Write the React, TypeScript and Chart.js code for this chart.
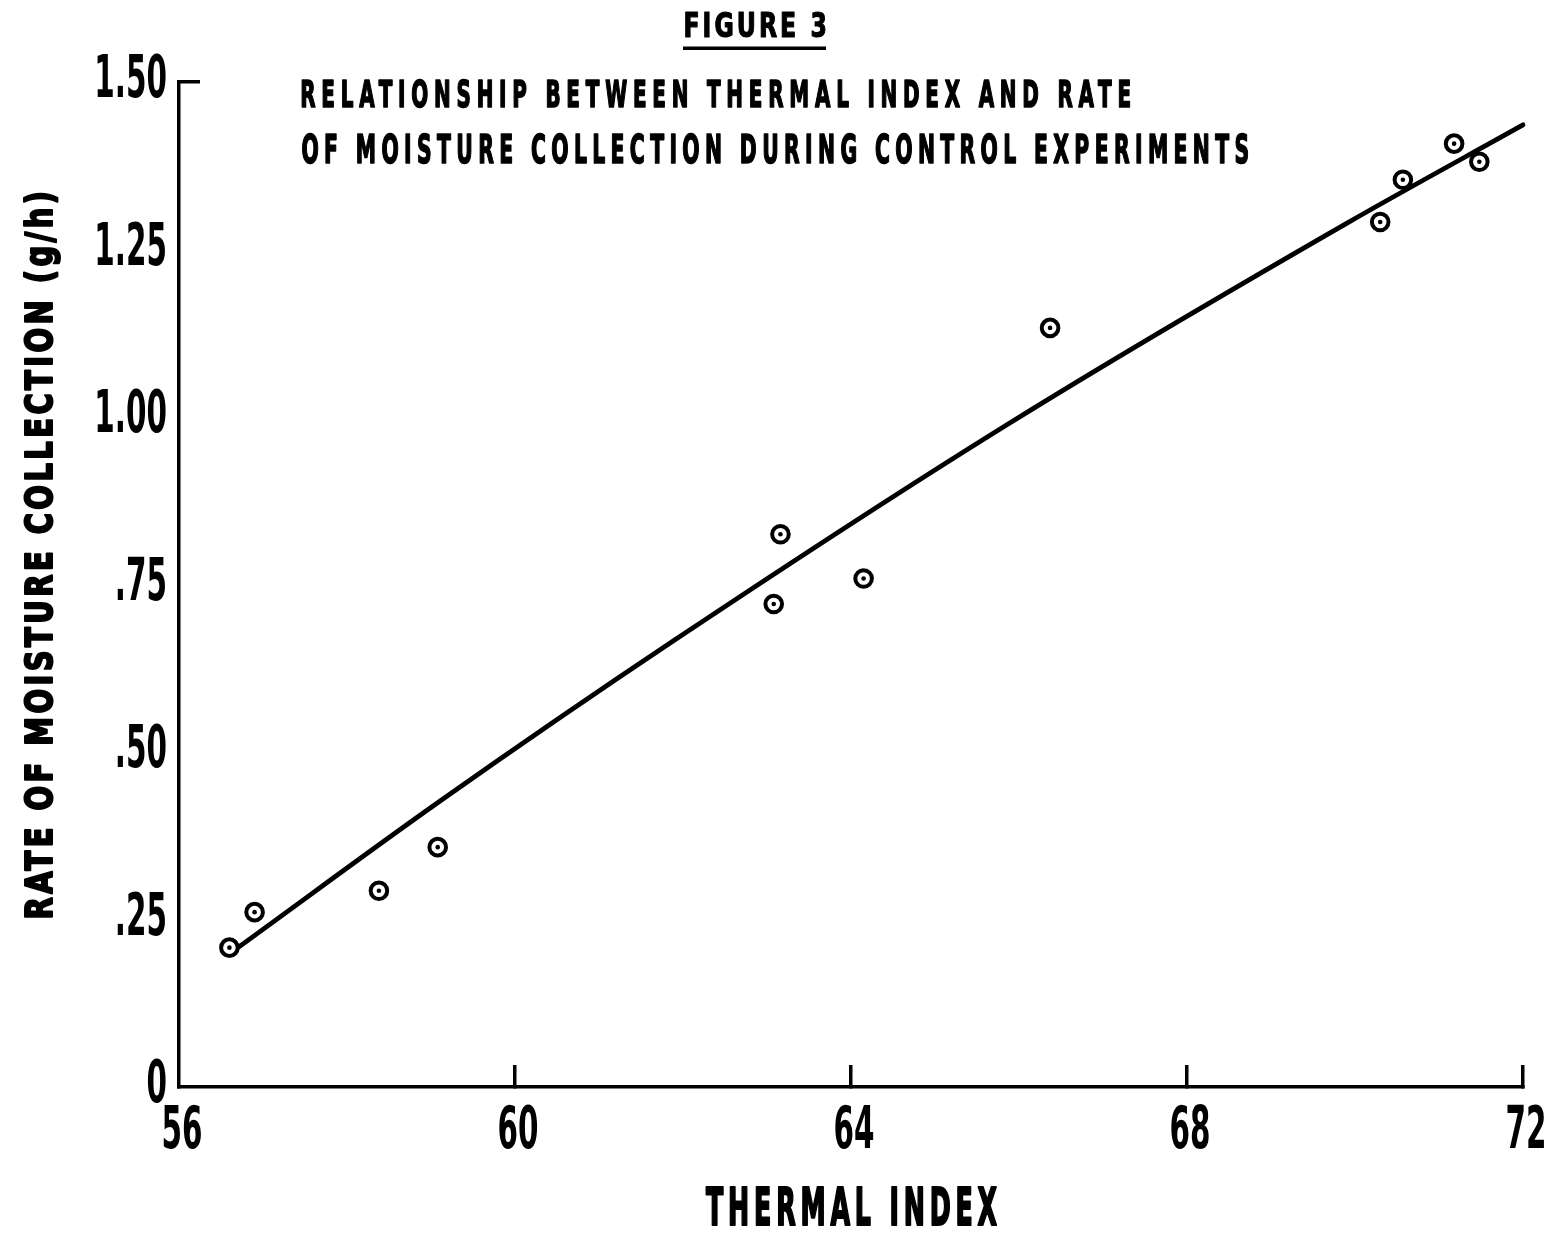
import React, { useEffect, useRef } from 'react';
import { Chart, registerables } from 'chart.js';

Chart.register(...registerables);

const FAMILY = '"Liberation Sans Narrow", "DejaVu Sans Condensed", "Liberation Sans", "DejaVu Sans", sans-serif';

// Observed data points (thermal index, rate of moisture collection g/h)
const thermalIndex = [56.6, 56.9, 58.38, 59.08, 63.08, 63.16, 64.15, 66.37, 70.3, 70.57, 71.18, 71.48];
const moistureRate = [0.208, 0.261, 0.293, 0.358, 0.721, 0.825, 0.759, 1.133, 1.291, 1.354, 1.408, 1.381];

// Hand-drawn fitted curve
const fitThermal = [56.69, 59.1, 61.9, 65.89, 69.9, 72.0];
const fitRate = [0.207, 0.426, 0.667, 0.991, 1.289, 1.436];

const xTicks = [56, 60, 64, 68, 72];
const xTickLabels = ['56', '60', '64', '68', '72'];
const yTicks = [0, 0.25, 0.5, 0.75, 1, 1.25, 1.5];
const yTickLabels = ['0', '.25', '.50', '.75', '1.00', '1.25', '1.50'];

const figureLabel = 'FIGURE 3';
const titleLines = [
  'RELATIONSHIP BETWEEN THERMAL INDEX AND RATE',
  'OF MOISTURE COLLECTION DURING CONTROL EXPERIMENTS',
];
const xTitle = 'THERMAL INDEX';
const yTitle = 'RATE OF MOISTURE COLLECTION (g/h)';

const TICK_SET = new Set([...xTickLabels, ...yTickLabels]);
const DIGIT_ADVANCE = 20.5;

function drawFitted(
  ctx: CanvasRenderingContext2D,
  text: string,
  length: number,
  cap: number,
  inkRatio: number,
  stroke: number
) {
  (ctx as any).letterSpacing = '0px';
  ctx.font = `bold 100px ${FAMILY}`;
  const mH = ctx.measureText('H');
  const size = (100 * cap) / mH.actualBoundingBoxAscent;
  ctx.font = `bold ${size}px ${FAMILY}`;
  const mE = ctx.measureText('E');
  const inkE = mE.actualBoundingBoxRight + mE.actualBoundingBoxLeft;
  let sx = (inkRatio * cap) / inkE;
  const m = ctx.measureText(text);
  const w0 = m.actualBoundingBoxRight + m.actualBoundingBoxLeft;
  const n = Array.from(text).length;
  let L = (length / sx - w0) / Math.max(1, n - 1);
  if (L < 0) {
    L = 0;
    sx = length / w0;
  }
  (ctx as any).letterSpacing = `${L}px`;
  ctx.scale(sx, 1);
  ctx.textAlign = 'left';
  ctx.textBaseline = 'alphabetic';
  ctx.fillStyle = '#000';
  ctx.strokeStyle = '#000';
  ctx.lineJoin = 'round';
  ctx.fillText(text, m.actualBoundingBoxLeft, 0);
  if (stroke > 0) {
    ctx.lineWidth = stroke;
    ctx.strokeText(text, m.actualBoundingBoxLeft, 0);
  }
  (ctx as any).letterSpacing = '0px';
}

const condensedTicks = {
  id: 'condensedTicks',
  beforeDraw(chart: any) {
    const ctx = chart.ctx;
    const orig = CanvasRenderingContext2D.prototype.fillText;
    ctx.fillText = function (text: string, x: number, y: number, maxWidth?: number) {
      if (maxWidth === undefined && TICK_SET.has(String(text))) {
        const d = this.measureText('0').width;
        const w = this.measureText(text).width;
        return orig.call(this, text, x, y, w * (DIGIT_ADVANCE / d));
      }
      return maxWidth === undefined ? orig.call(this, text, x, y) : orig.call(this, text, x, y, maxWidth);
    };
  },
  afterDraw(chart: any) {
    delete chart.ctx.fillText;
  },
};

const titles = {
  id: 'titles',
  afterDraw(chart: any) {
    const ctx: CanvasRenderingContext2D = chart.ctx;
    ctx.save();
    ctx.translate(685, 37);
    drawFitted(ctx, figureLabel, 140, 25, 0.52, 1.2);
    ctx.restore();
    ctx.save();
    ctx.fillStyle = '#000';
    ctx.fillRect(683, 46.5, 143, 3.5);
    ctx.restore();

    ctx.save();
    ctx.translate(302, 107);
    drawFitted(ctx, titleLines[0], 828, 27, 0.4, 1.6);
    ctx.restore();
    ctx.save();
    ctx.translate(302, 163);
    drawFitted(ctx, titleLines[1], 946, 28, 0.4, 1.6);
    ctx.restore();

    ctx.save();
    ctx.translate(706, 1225);
    drawFitted(ctx, xTitle, 291, 37, 0.36, 2.2);
    ctx.restore();

    ctx.save();
    ctx.translate(52, 917);
    ctx.rotate(-Math.PI / 2);
    drawFitted(ctx, yTitle, 724, 27, 0.58, 2);
    ctx.restore();
  },
};

export default function App() {
  const ref = useRef<HTMLCanvasElement>(null);

  useEffect(() => {
    const canvas = ref.current;
    if (!canvas) return;
    const points = thermalIndex.map((x, i) => ({ x, y: moistureRate[i] }));
    const fit = fitThermal.map((x, i) => ({ x, y: fitRate[i] }));

    const chart = new Chart(canvas, {
      type: 'scatter',
      data: {
        datasets: [
          {
            type: 'line',
            data: fit,
            borderColor: '#000',
            borderWidth: 4.8,
            pointRadius: 0,
            fill: false,
            cubicInterpolationMode: 'monotone',
            clip: false,
            order: 2,
            borderCapStyle: 'round',
          } as any,
          {
            data: points,
            pointStyle: 'circle',
            pointRadius: 8.3,
            pointBorderWidth: 4,
            pointBackgroundColor: '#fff',
            pointBorderColor: '#000',
            order: 1,
          },
          {
            data: points,
            pointStyle: 'circle',
            pointRadius: 2.3,
            pointBorderWidth: 0,
            pointBackgroundColor: '#000',
            pointBorderColor: '#000',
            order: 0,
          },
        ],
      },
      options: {
        animation: false,
        responsive: false,
        devicePixelRatio: 1,
        layout: { padding: { left: 0, right: 32, top: 82, bottom: 0 } },
        plugins: {
          legend: { display: false },
          tooltip: { enabled: false },
          title: { display: false },
        },
        scales: {
          x: {
            type: 'linear',
            min: 56,
            max: 72,
            afterBuildTicks: (s: any) => {
              s.ticks = xTicks.map((v) => ({ value: v }));
            },
            afterFit: (s: any) => {
              s.height = 149;
              s.paddingLeft = 0;
              s.paddingRight = 0;
            },
            ticks: {
              autoSkip: false,
              maxRotation: 0,
              minRotation: 0,
              padding: 33,
              labelOffset: 3,
              color: '#000',
              font: { family: FAMILY, size: 58, weight: 'bold' },
              callback: (v: any) => {
                const i = xTicks.indexOf(Number(v));
                return i >= 0 ? xTickLabels[i] : '';
              },
            },
            grid: {
              drawOnChartArea: false,
              drawTicks: true,
              tickLength: -22,
              lineWidth: 3.5,
              color: (c: any) => (c.tick && c.tick.value === 56 ? 'rgba(0,0,0,0)' : '#000'),
            },
            border: { display: true, color: '#000', width: 3.5 },
          },
          y: {
            type: 'linear',
            min: 0,
            max: 1.5,
            afterBuildTicks: (s: any) => {
              s.ticks = yTicks.map((v) => ({ value: v }));
            },
            afterFit: (s: any) => {
              s.width = 179;
              s.paddingTop = 0;
              s.paddingBottom = 0;
            },
            ticks: {
              padding: 33,
              color: '#000',
              font: { family: FAMILY, size: 58, weight: 'bold' },
              callback: (v: any) => {
                const i = yTicks.findIndex((t) => Math.abs(t - Number(v)) < 1e-9);
                return i >= 0 ? yTickLabels[i] : '';
              },
            },
            grid: {
              drawOnChartArea: false,
              drawTicks: true,
              tickLength: -21,
              lineWidth: 3.5,
              color: (c: any) => (c.tick && Math.abs(c.tick.value - 1.5) < 1e-9 ? '#000' : 'rgba(0,0,0,0)'),
            },
            border: { display: true, color: '#000', width: 3.5 },
          },
        },
      } as any,
      plugins: [condensedTicks, titles],
    });

    return () => chart.destroy();
  }, []);

  return (
    <div style={{ position: 'fixed', left: 0, top: 0, width: 1555, height: 1236, background: '#fff' }}>
      <canvas ref={ref} width={1555} height={1236} style={{ display: 'block', width: 1555, height: 1236 }} />
    </div>
  );
}
